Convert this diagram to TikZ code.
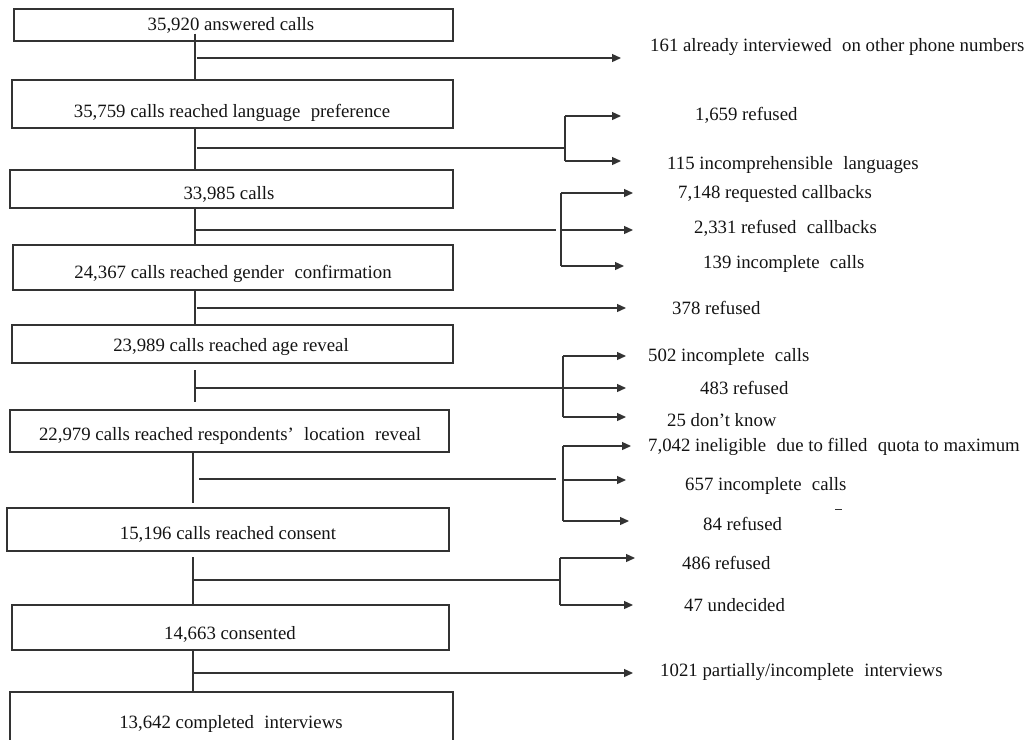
\documentclass[tikz,border=0pt]{standalone}
\usepackage{fontspec}
\setmainfont{Liberation Serif}
\usetikzlibrary{arrows.meta}
\definecolor{linec}{gray}{0.2}
\definecolor{txtc}{gray}{0.08}
\newcommand{\dsp}{\hspace{0.3em}}
\begin{document}
\begin{tikzpicture}[x=1pt,y=-1pt,
  box/.style={draw=linec, line width=1.3pt, rectangle, inner sep=0pt},
  lbl/.style={inner sep=0pt, font=\fontsize{18.8}{22}\selectfont, text=txtc},
  rlbl/.style={lbl, anchor=west},
  con/.style={draw=linec, line width=1.3pt},
  arr/.style={con, -{Triangle[length=9pt,width=8pt]}}]
\useasboundingbox (0,0) rectangle (1028,739);
\clip (0,0) rectangle (1028,739);

% ---------- main boxes ----------
\node[box, minimum width=439pt, minimum height=32pt] (b1) at (233.5,25) {};
\node[lbl] (t1) at (231,25) {35,920 answered calls};
\node[box, minimum width=441pt, minimum height=48pt] (b2) at (232.5,104) {};
\node[lbl] (t2) at (232,113) {35,759 calls reached language\dsp{} preference};
\node[box, minimum width=443pt, minimum height=38pt] (b3) at (231.5,189) {};
\node[lbl] (t3) at (229,194) {33,985 calls};
\node[box, minimum width=440pt, minimum height=45pt] (b4) at (233,267.5) {};
\node[lbl] (t4) at (233,274) {24,367 calls reached gender\dsp{} confirmation};
\node[box, minimum width=441pt, minimum height=38pt] (b5) at (232.5,344) {};
\node[lbl] (t5) at (231,347) {23,989 calls reached age reveal};
\node[box, minimum width=439pt, minimum height=42pt] (b6) at (229.5,431) {};
\node[lbl] (t6) at (230,436) {22,979 calls reached respondents’\dsp{} location\dsp{} reveal};
\node[box, minimum width=442pt, minimum height=43pt] (b7) at (228,529.5) {};
\node[lbl] (t7) at (228,534) {15,196 calls reached consent};
\node[box, minimum width=437pt, minimum height=45pt] (b8) at (230.5,627.5) {};
\node[lbl] (t8) at (230,634) {14,663 consented};
\node[box, minimum width=443pt, minimum height=56pt] (b9) at (231.5,720) {};
\node[lbl] (t9) at (231,724) {13,642 completed\dsp{} interviews};

% ---------- right labels ----------
\node[rlbl] (r1) at (650,47) {161 already interviewed\dsp{} on other phone numbers};
\node[rlbl] (r2a) at (695,115) {1,659 refused};
\node[rlbl] (r2b) at (667,165) {115 incomprehensible\dsp{} languages};
\node[rlbl] (r3a) at (678,194) {7,148 requested callbacks};
\node[rlbl] (r3b) at (694,228) {2,331 refused\dsp{} callbacks};
\node[rlbl] (r3c) at (703,264) {139 incomplete\dsp{} calls};
\node[rlbl] (r4) at (672,308) {378 refused};
\node[rlbl] (r5a) at (648,357) {502 incomplete\dsp{} calls};
\node[rlbl] (r5b) at (700,388) {483 refused};
\node[rlbl] (r5c) at (667,420) {25 don’t know};
\node[rlbl] (r6a) at (648,447) {7,042 ineligible\dsp{} due to filled\dsp{} quota to maximum};
\node[rlbl] (r6b) at (685,486) {657 incomplete\dsp{} calls};
\node[rlbl] (r6c) at (703,524) {84 refused};
\node[rlbl] (r7a) at (682,563) {486 refused};
\node[rlbl] (r7b) at (684,605) {47 undecided};
\node[rlbl] (r8) at (660,672) {1021 partially/incomplete\dsp{} interviews};

% ---------- spine ----------
\coordinate (spA) at (195,0);
\coordinate (spB) at (193,0);
\draw[con] (b1.south -| spA) ++(0,-8) -- (b2.north -| spA);
\draw[con] (b2.south -| spA) -- (b3.north -| spA);
\draw[con] (b3.south -| spA) -- (b4.north -| spA);
\draw[con] (b4.south -| spA) -- (b5.north -| spA);
\coordinate (s5a) at (195,370);
\coordinate (s5b) at (195,402);
\draw[con] (s5a) -- (s5b);
\coordinate (s6b) at (193,503);
\draw[con] (b6.south -| spB) -- (s6b);
\coordinate (s7a) at (193,557);
\draw[con] (s7a) -- (b8.north -| spB);
\draw[con] (b8.south -| spB) -- (b9.north -| spB);

% ---------- branch A ----------
\coordinate (jA) at (197,58);
\coordinate (eA) at (621,58);
\draw[arr] (jA) -- (eA);

% ---------- branch B ----------
\coordinate (jB) at (197,148);
\coordinate (kB) at (565,148);
\coordinate (kB1) at (565,116);
\coordinate (kB2) at (565,161);
\coordinate (eB1) at (621,116);
\coordinate (eB2) at (621,161);
\draw[con] (jB) -- (kB);
\draw[con] (kB1) -- (kB2);
\draw[arr] (kB2) -- (eB2);
\draw[arr] (kB1) -- (eB1);

% ---------- branch C ----------
\coordinate (jC) at (195,230);
\coordinate (gC) at (556,230);
\coordinate (kC1) at (561,193);
\coordinate (kC3) at (561,266);
\coordinate (eC1) at (633,193);
\coordinate (eC2) at (633,230);
\coordinate (eC3) at (624,266);
\draw[con] (jC) -- (gC);
\draw[con] (kC1) -- (kC3);
\draw[arr] (kC1) -- (eC1);
\draw[arr] (eC2 -| kC1) -- (eC2);
\draw[arr] (kC3) -- (eC3);

% ---------- branch D ----------
\coordinate (jD) at (197,308);
\coordinate (eD) at (626,308);
\draw[arr] (jD) -- (eD);

% ---------- branch E ----------
\coordinate (jE) at (195,388);
\coordinate (kE1) at (563,356);
\coordinate (kE3) at (563,417);
\coordinate (eE1) at (626,356);
\coordinate (eE2) at (626,388);
\coordinate (eE3) at (626,417);
\draw[arr] (jE) -- (eE2);
\draw[con] (kE1) -- (kE3);
\draw[arr] (kE1) -- (eE1);
\draw[arr] (kE3) -- (eE3);

% ---------- branch F ----------
\coordinate (jF) at (199,479);
\coordinate (gF) at (556,479);
\coordinate (kF1) at (563,446);
\coordinate (kF3) at (563,521);
\coordinate (eF1) at (631,446);
\coordinate (eF2) at (626,480);
\coordinate (eF3) at (629,521);
\draw[con] (jF) -- (gF);
\draw[con] (kF1) -- (kF3);
\draw[arr] (kF1) -- (eF1);
\draw[arr] (eF2 -| kF1) -- (eF2);
\draw[arr] (kF3) -- (eF3);
\coordinate (dashA) at (835,509);
\coordinate (dashB) at (842,509);
\draw[draw=linec, line width=0.8pt] (dashA) -- (dashB);

% ---------- branch G ----------
\coordinate (jG) at (193,580);
\coordinate (kG) at (560,580);
\coordinate (kG1) at (560,558);
\coordinate (kG2) at (560,605);
\coordinate (eG1) at (635,558);
\coordinate (eG2) at (633,605);
\draw[con] (jG) -- (kG);
\draw[con] (kG1) -- (kG2);
\draw[arr] (kG1) -- (eG1);
\draw[arr] (kG2) -- (eG2);

% ---------- branch H ----------
\coordinate (jH) at (193,673);
\coordinate (eH) at (633,673);
\draw[arr] (jH) -- (eH);
\end{tikzpicture}
\end{document}
